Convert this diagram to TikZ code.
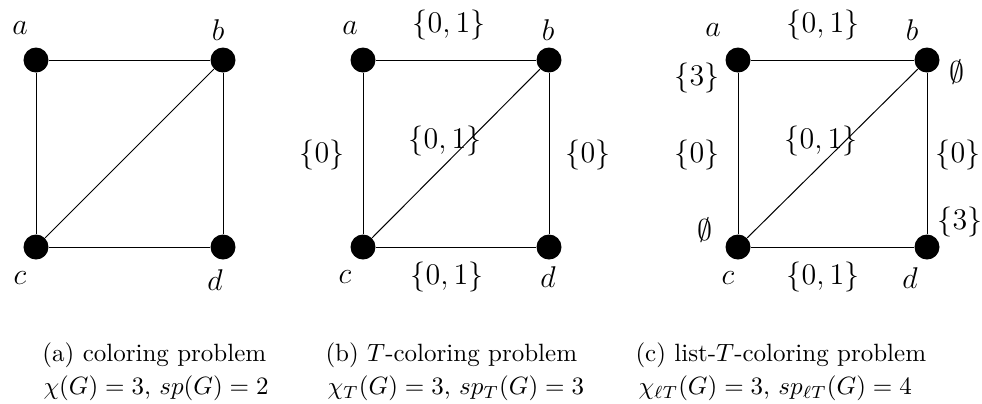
\documentclass[tikz,border=0pt]{standalone}
\begin{document}
\begin{tikzpicture}[x=0.4pt,y=-0.4pt,
  vertex/.style={circle,fill=black,inner sep=0pt,minimum size=10pt},
  lbl/.style={font=\large,inner sep=0pt},
  captext/.style={anchor=west,inner sep=0pt}]
  \useasboundingbox (0,0) rectangle (982,403);
  % (a) coloring problem
  \node[vertex] (a1) at (36,60) {};
  \node[vertex] (b1) at (223,60) {};
  \node[vertex] (c1) at (36,247) {};
  \node[vertex] (d1) at (223,247) {};
  \draw (a1) -- (b1) -- (d1) -- (c1) -- (a1);
  \draw (c1) -- (b1);
  \node[lbl] (na1) at (20,28) {$a$};
  \node[lbl] (nb1) at (218,30) {$b$};
  \node[lbl] (nc1) at (20,278) {$c$};
  \node[lbl] (nd1) at (215,280) {$d$};
  % (b) T-coloring problem
  \node[vertex] (a2) at (363,60) {};
  \node[vertex] (b2) at (549,60) {};
  \node[vertex] (c2) at (363,247) {};
  \node[vertex] (d2) at (549,247) {};
  \draw (a2) -- (b2) -- (d2) -- (c2) -- (a2);
  \draw (c2) -- (b2);
  \node[lbl] (na2) at (350,28) {$a$};
  \node[lbl] (nb2) at (548,30) {$b$};
  \node[lbl] (nc2) at (345,277) {$c$};
  \node[lbl] (nd2) at (548,277) {$d$};
  \node[lbl] (tab2) at (449,25) {$\{0,1\}$};
  \node[lbl] (tbc2) at (445,141) {$\{0,1\}$};
  \node[lbl] (tac2) at (322,155) {$\{0\}$};
  \node[lbl] (tbd2) at (588,155) {$\{0\}$};
  \node[lbl] (tcd2) at (447,277) {$\{0,1\}$};
  % (c) list-T-coloring problem
  \node[vertex] (a3) at (738,60) {};
  \node[vertex] (b3) at (927,60) {};
  \node[vertex] (c3) at (738,247) {};
  \node[vertex] (d3) at (927,247) {};
  \draw (a3) -- (b3) -- (d3) -- (c3) -- (a3);
  \draw (c3) -- (b3);
  \node[lbl] (na3) at (713,30) {$a$};
  \node[lbl] (nb3) at (912,30) {$b$};
  \node[lbl] (nc3) at (728,278) {$c$};
  \node[lbl] (nd3) at (910,278) {$d$};
  \node[lbl] (la3) at (697,78) {$\{3\}$};
  \node[lbl] (lb3) at (957,72) {$\emptyset$};
  \node[lbl] (lc3) at (705,230) {$\emptyset$};
  \node[lbl] (ld3) at (960,222) {$\{3\}$};
  \node[lbl] (tab3) at (823,25) {$\{0,1\}$};
  \node[lbl] (tbc3) at (821,141) {$\{0,1\}$};
  \node[lbl] (tac3) at (697,155) {$\{0\}$};
  \node[lbl] (tbd3) at (958,155) {$\{0\}$};
  \node[lbl] (tcd3) at (823,277) {$\{0,1\}$};
  % captions
  \node[captext] (capa) at (42,355) {(a) coloring problem};
  \node[captext] (capa2) at (43,388) {$\chi(G)=3$, $sp(G)=2$};
  \node[captext] (capb) at (325,355) {(b) $T$-coloring problem};
  \node[captext] (capb2) at (327,388) {$\chi_T(G)=3$, $sp_T(G)=3$};
  \node[captext] (capc) at (635,355) {(c) list-$T$-coloring problem};
  \node[captext] (capc2) at (638,388) {$\chi_{\ell T}(G)=3$, $sp_{\ell T}(G)=4$};
\end{tikzpicture}
\end{document}
